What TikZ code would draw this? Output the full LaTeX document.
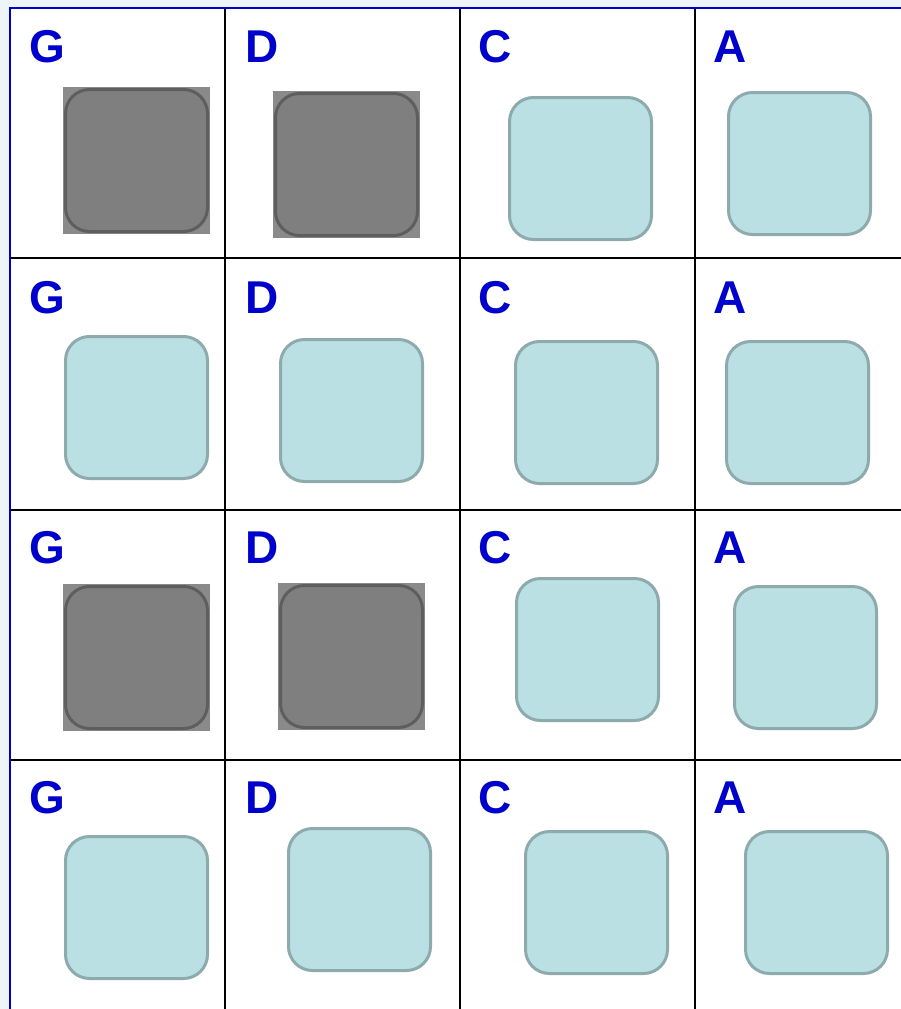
\documentclass[tikz,border=0pt]{standalone}
\usepackage{fontspec}
\setmainfont{Liberation Sans}
\definecolor{bgout}{HTML}{EEF5F8}
\definecolor{lblue}{HTML}{0000CC}
\definecolor{lightfill}{HTML}{BBE0E3}
\definecolor{lightedge}{HTML}{8DAAAD}
\definecolor{darkback}{HTML}{8A8A8A}
\definecolor{darkfill}{HTML}{7F7F7F}
\definecolor{darkedge}{HTML}{5E5E5E}
\tikzset{
  x=1pt, y=-1pt,
  lbl/.style={anchor=base west, inner sep=0pt, text=lblue, font=\fontsize{46}{46}\selectfont\bfseries},
  litebox/.style={draw=lightedge, fill=lightfill, line width=3pt, rounded corners=24pt, minimum size=142pt, inner sep=0pt},
  darkbox/.style={draw=darkedge, fill=darkfill, line width=3pt, rounded corners=24pt, minimum size=142pt, inner sep=0pt},
  backsq/.style={fill=darkback, minimum size=147pt, inner sep=0pt},
  gridline/.style={line width=2pt, black},
  frame/.style={line width=2pt, lblue}
}
\begin{document}
\begin{tikzpicture}
\useasboundingbox (0,0) rectangle (901,1009);
\fill[bgout] (0,0) rectangle (901,1009);
\fill[white] (10,8) rectangle (901,1009);
% grid
\draw[gridline] (225,8) -- (225,1009);
\draw[gridline] (460,8) -- (460,1009);
\draw[gridline] (695,8) -- (695,1009);
\draw[gridline] (10,258) -- (901,258);
\draw[gridline] (10,510) -- (901,510);
\draw[gridline] (10,760) -- (901,760);
\draw[frame] (10,1009) -- (10,7.5) -- (901,7.5);
% row 1
\node[lbl] (g1) at (29,62) {G};
\node[lbl] (d1) at (245,62) {D};
\node[lbl] (c1) at (478,62) {C};
\node[lbl] (a1) at (713,62) {A};
\node[backsq] (g1b) at (136.5,160.5) {};
\node[darkbox] (g1s) at (g1b.center) {};
\node[backsq] (d1b) at (346.5,164.5) {};
\node[darkbox] (d1s) at (d1b.center) {};
\node[litebox] (c1s) at (580.5,168.5) {};
\node[litebox] (a1s) at (799.5,163.5) {};
% row 2
\node[lbl] (g2) at (29,313) {G};
\node[lbl] (d2) at (245,313) {D};
\node[lbl] (c2) at (478,313) {C};
\node[lbl] (a2) at (713,313) {A};
\node[litebox] (g2s) at (136.5,407.5) {};
\node[litebox] (d2s) at (351.5,410.5) {};
\node[litebox] (c2s) at (586.5,412.5) {};
\node[litebox] (a2s) at (797.5,412.5) {};
% row 3
\node[lbl] (g3) at (29,563) {G};
\node[lbl] (d3) at (245,563) {D};
\node[lbl] (c3) at (478,563) {C};
\node[lbl] (a3) at (713,563) {A};
\node[backsq] (g3b) at (136.5,657.5) {};
\node[darkbox] (g3s) at (g3b.center) {};
\node[backsq] (d3b) at (351.5,656.5) {};
\node[darkbox] (d3s) at (d3b.center) {};
\node[litebox] (c3s) at (587.5,649.5) {};
\node[litebox] (a3s) at (805.5,657.5) {};
% row 4
\node[lbl] (g4) at (29,813) {G};
\node[lbl] (d4) at (245,813) {D};
\node[lbl] (c4) at (478,813) {C};
\node[lbl] (a4) at (713,813) {A};
\node[litebox] (g4s) at (136.5,907.5) {};
\node[litebox] (d4s) at (359.5,899.5) {};
\node[litebox] (c4s) at (596.5,902.5) {};
\node[litebox] (a4s) at (816.5,902.5) {};
\end{tikzpicture}
\end{document}
